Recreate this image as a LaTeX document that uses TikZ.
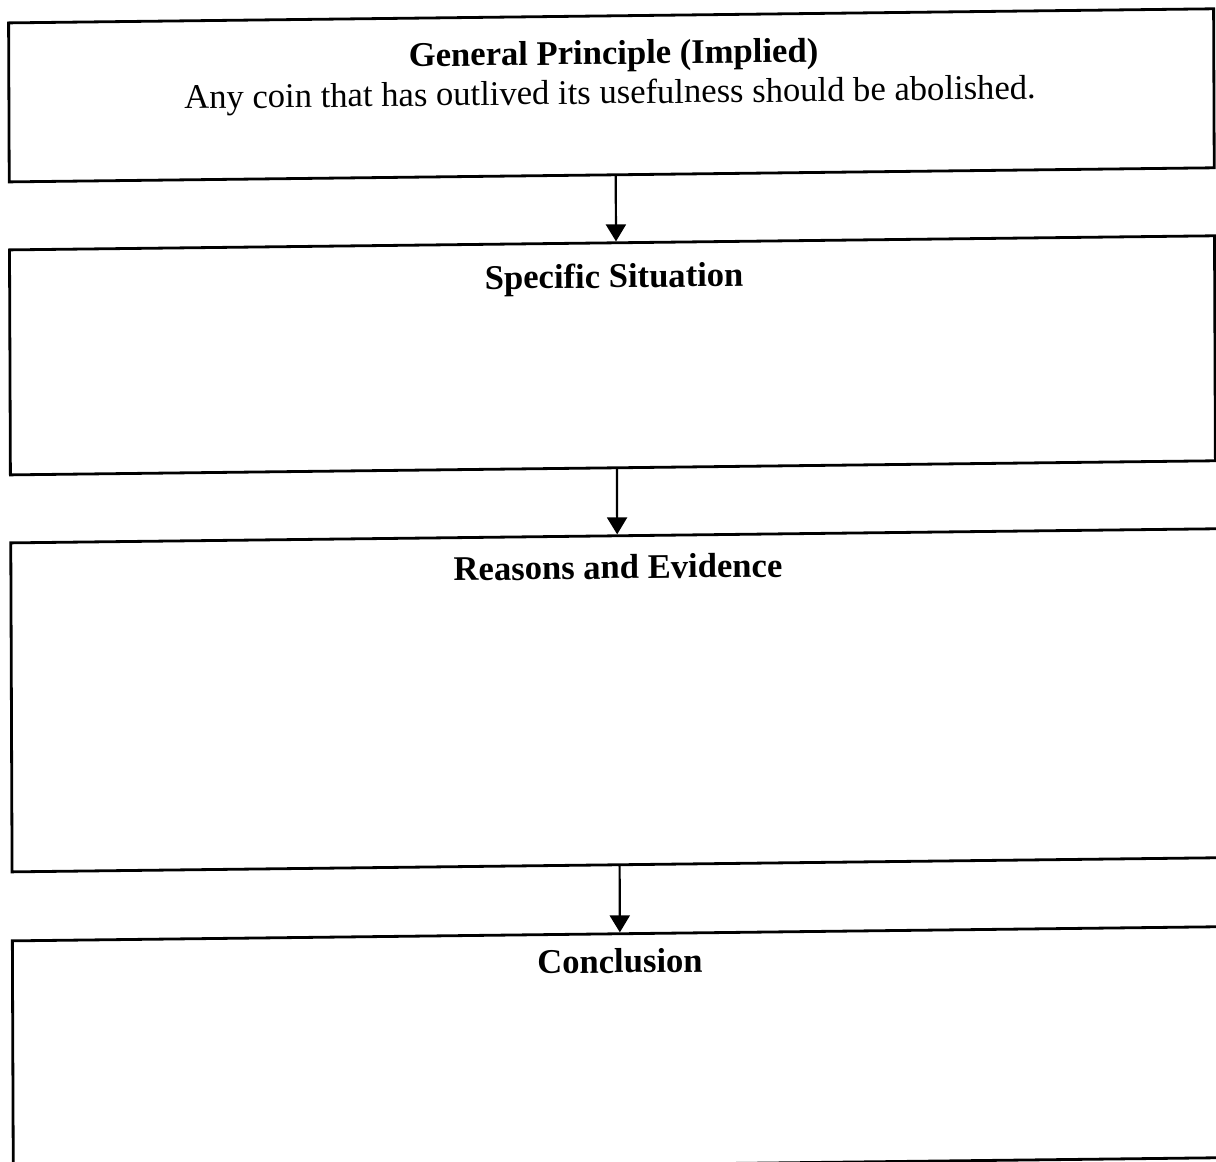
\documentclass[tikz,border=0pt]{standalone}
\usepackage{fontspec}
\setmainfont{Liberation Serif}
\usetikzlibrary{arrows.meta}
\begin{document}
\begin{tikzpicture}[x=1pt, y=-1pt]
\tikzset{wsbox/.style={shape=rectangle, draw, line width=2.8pt, inner sep=0pt, minimum width=1205pt}}
\tikzset{wstitle/.style={anchor=base, inner sep=0pt, font=\fontsize{34.6}{40}\selectfont\bfseries}}
\tikzset{wstext/.style={anchor=base, inner sep=0pt, font=\fontsize{34.6}{40}\selectfont}}
\tikzset{wsedge/.style={-{Triangle[width=20pt, length=17pt]}, line width=2.2pt}}
% page
\path[use as bounding box, clip] (0,0) rectangle (1216,1162);
\begin{scope}[yslant=0.0117, xslant=-0.004, transform shape]
% boxes
\node (gen) [wsbox, minimum height=159pt]                        at (611,    102.5) {};
\node (sit) [wsbox, minimum height=225pt]                        at (611,    362.5) {};
\node (rea) [wsbox, minimum height=329pt, minimum width=1212pt]  at (614.6,  707.5) {};
\node (con) [wsbox, minimum height=231pt, minimum width=1212pt]  at (614.6, 1056.5) {};
% titles
\node (gentitle) [wstitle]                                       at (613.3,  71.5) {General Principle (Implied)};
\node (genline)  [wstext]                                        at (609.6, 111) {Any coin that has outlived its usefulness should be abolished.};
\node (sittitle) [wstitle]                                       at (613,   295) {Specific Situation};
\node (reatitle) [wstitle]                                       at (615.7, 586) {Reasons and Evidence};
\node (contitle) [wstitle]                                       at (616.1, 980) {Conclusion};
% links
\draw[wsedge] ([xshift=4pt]gen.south) to ([xshift=4pt]gen.south |- sit.north);
\draw[wsedge] ([xshift=4pt]sit.south) to ([xshift=4pt]sit.south |- rea.north);
\draw[wsedge] ([xshift=1.5pt]rea.south) to ([xshift=1.5pt]rea.south |- con.north);
\end{scope}
\end{tikzpicture}
\end{document}
